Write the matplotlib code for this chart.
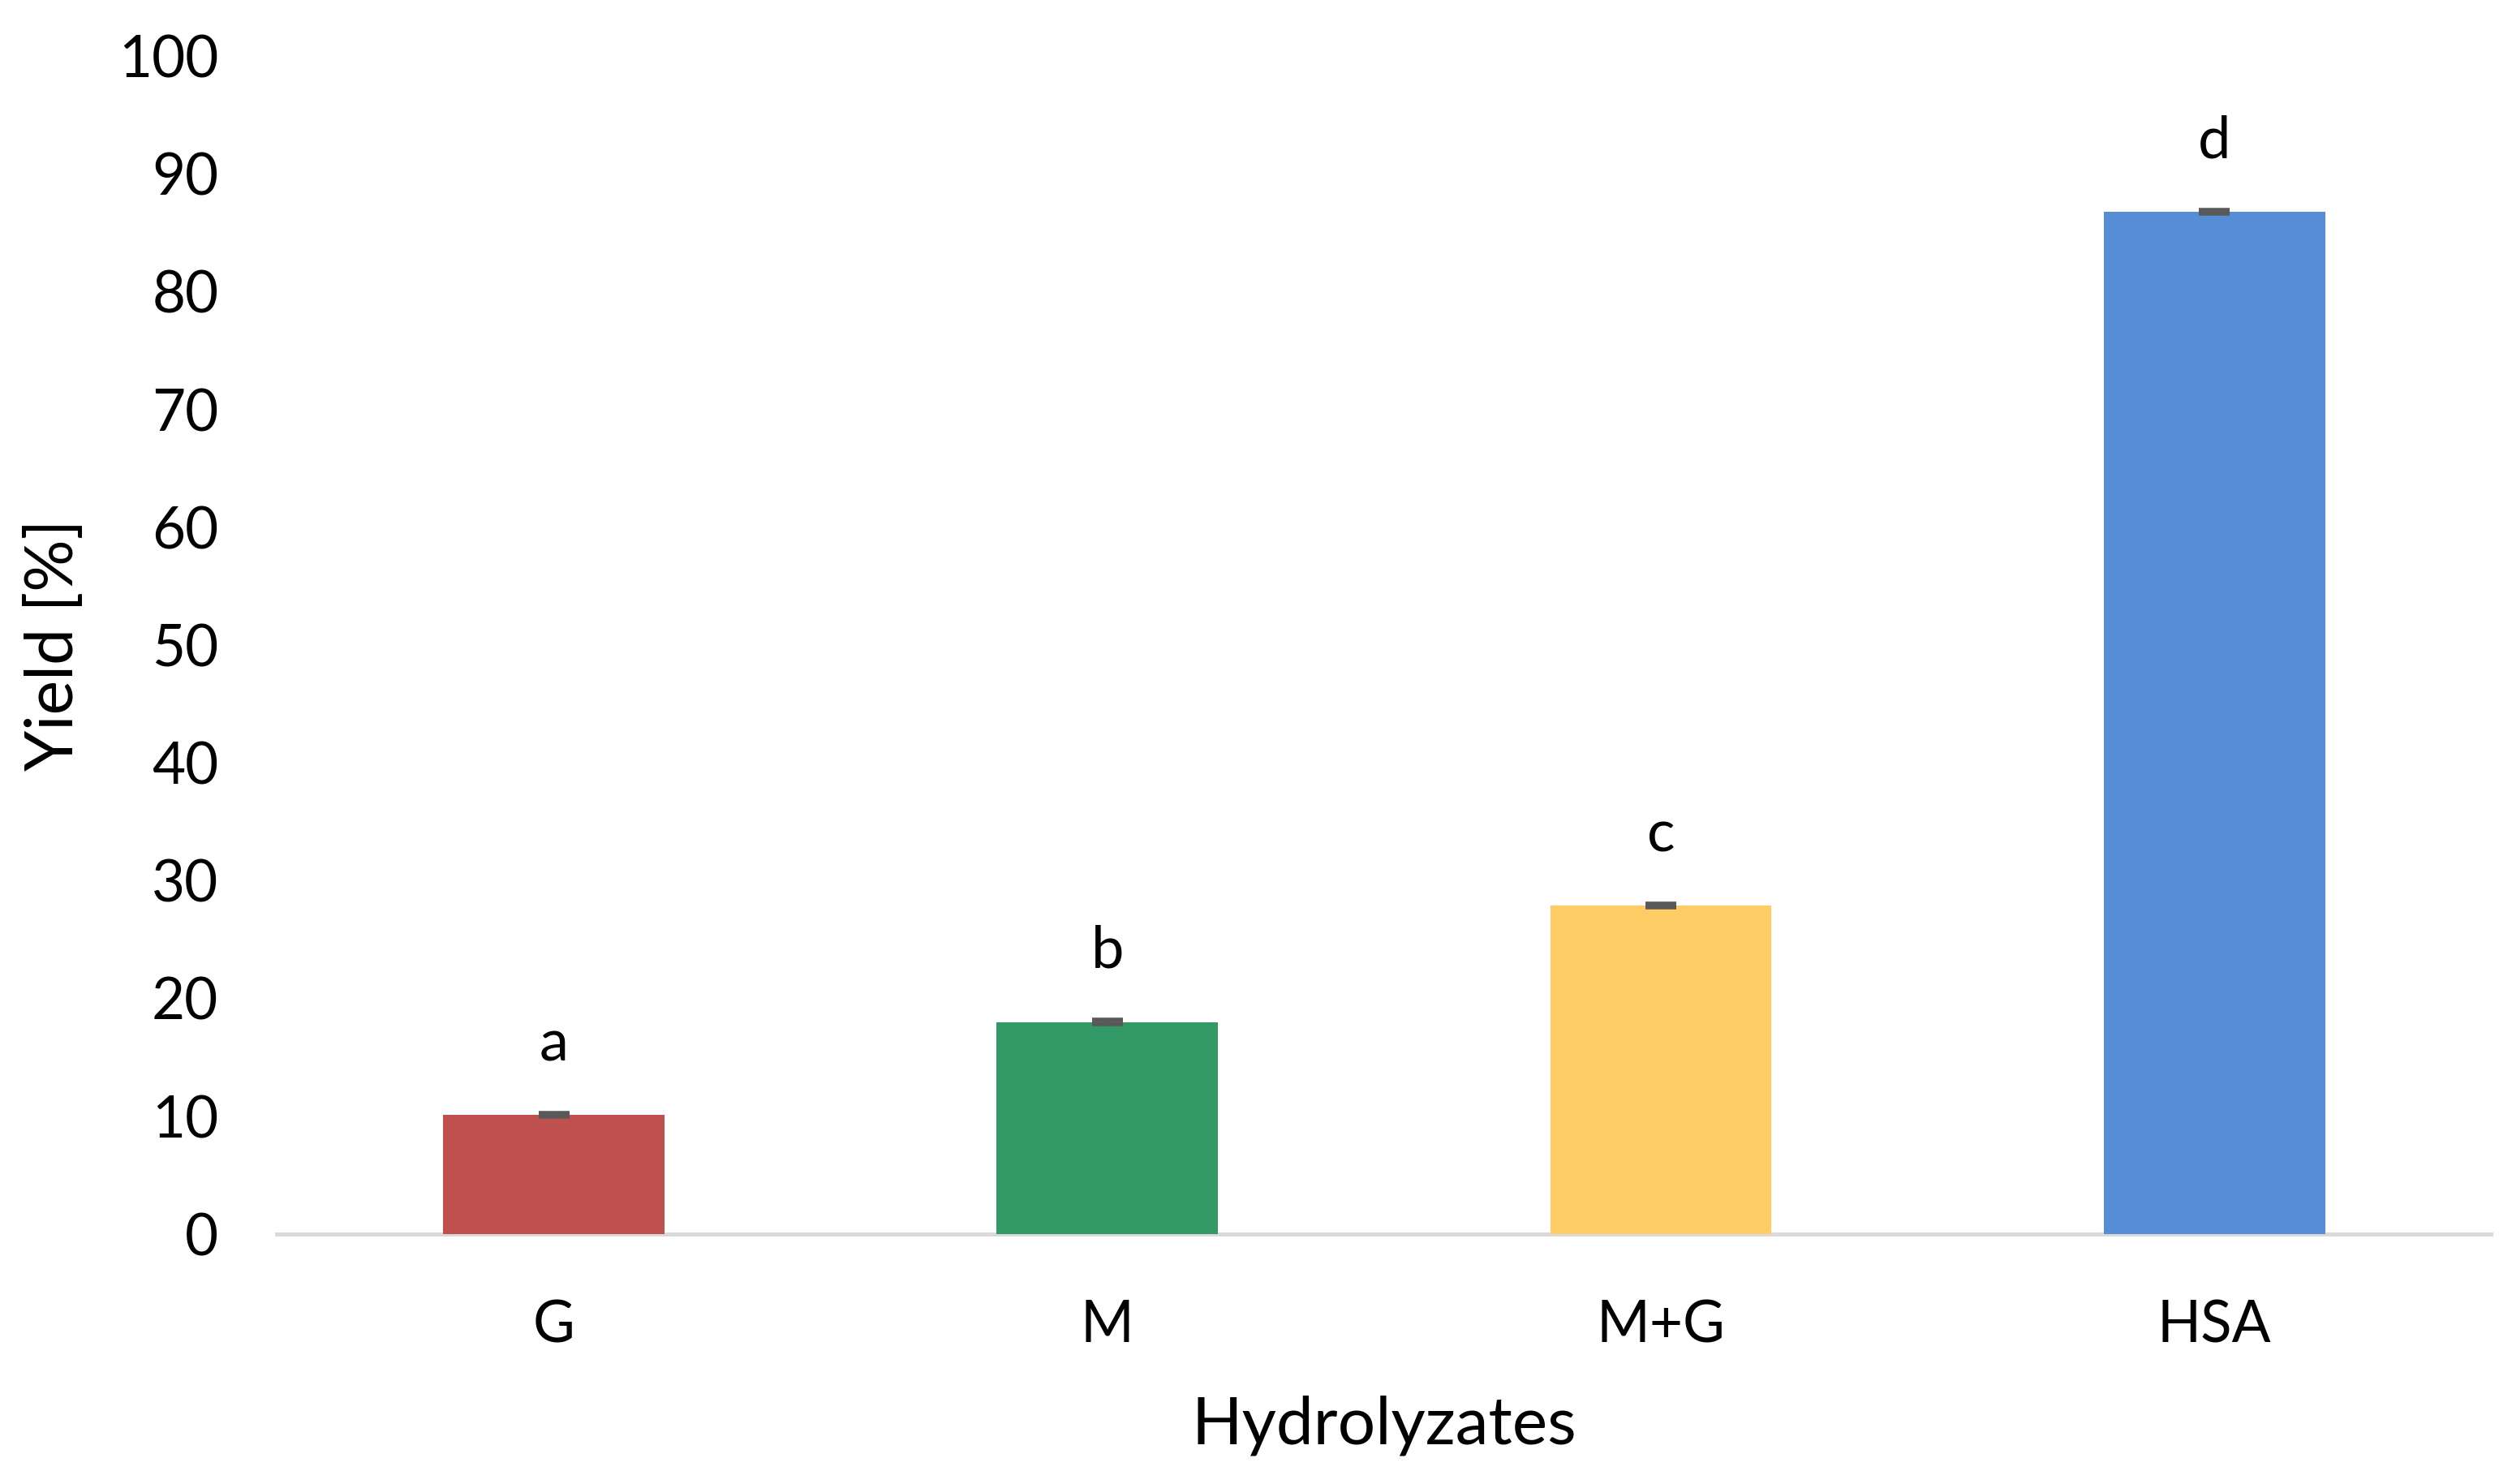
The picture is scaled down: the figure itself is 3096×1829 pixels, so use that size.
import matplotlib.pyplot as plt

# === Data ===
categories = ["G", "M", "M+G", "HSA"]
yield_pct = [10.1, 18.0, 27.9, 86.8]
yield_err = [0.15, 0.15, 0.15, 0.15]
letters = ["a", "b", "c", "d"]
bar_colors = ["#C0504D", "#339966", "#FFCC66", "#558ED5"]

# === Plot configuration ===
plt.rcParams["font.family"] = ["Lato", "DejaVu Sans"]
fig = plt.figure(figsize=(30.96, 18.29), dpi=100)
ax = fig.add_axes([0.1103, 0.1685, 0.8814, 0.7937])

x = range(len(categories))
ax.bar(x, yield_pct, width=0.4, color=bar_colors, zorder=2)
ax.errorbar(x, yield_pct, yerr=yield_err, fmt="none", ecolor="#595959",
            elinewidth=3, capsize=14, capthick=4, zorder=3)

# significance letters above bars
for xi, val, lab in zip(x, yield_pct, letters):
    ax.text(xi, val + 6, lab, ha="center", va="center", fontsize=52)

ax.set_xlim(-0.5, 3.5)
ax.set_ylim(0, 100)
ax.set_yticks(range(0, 101, 10))
ax.set_xticks(list(x))
ax.set_xticklabels(categories)

for side in ["top", "right", "left"]:
    ax.spines[side].set_visible(False)
ax.spines["bottom"].set_color("#D9D9D9")
ax.spines["bottom"].set_linewidth(3.5)
ax.spines["bottom"].set_zorder(1)

ax.tick_params(axis="y", length=0, pad=52, labelsize=51)
ax.tick_params(axis="x", length=0, pad=58, labelsize=51)

ax.set_xlabel("Hydrolyzates", fontsize=59, labelpad=38)
ax.set_ylabel("Yield [%]", fontsize=58, labelpad=30)

plt.savefig("out.png", dpi=100)
